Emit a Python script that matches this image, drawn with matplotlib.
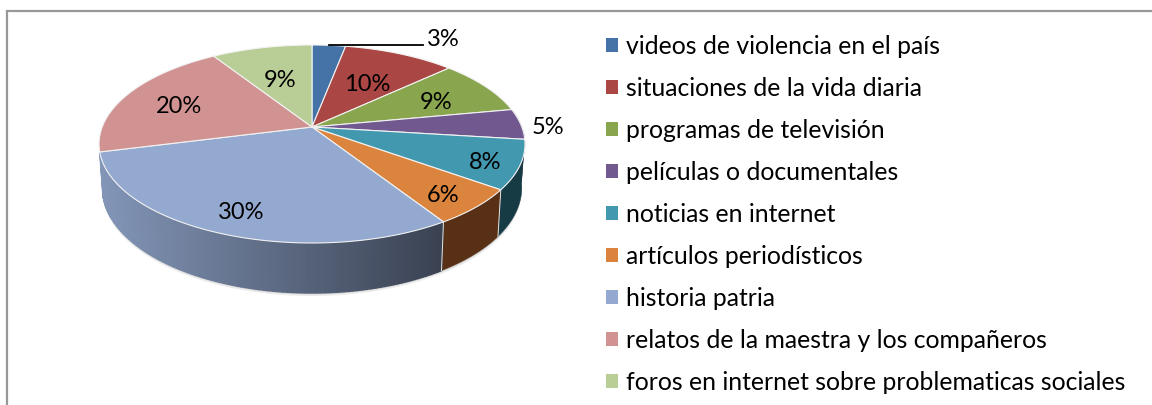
import numpy as np
import matplotlib
matplotlib.use('Agg')
import matplotlib.pyplot as plt
from matplotlib.colors import to_rgb
from matplotlib.patches import Patch

plt.rcParams['font.family'] = ['Lato', 'DejaVu Sans']

categories = ['videos de violencia en el país', 'situaciones de la vida diaria',
              'programas de televisión', 'películas o documentales',
              'noticias en internet', 'artículos periodísticos', 'historia patria',
              'relatos de la maestra y los compañeros',
              'foros en internet sobre problematicas sociales']
values = [3, 10, 9, 5, 8, 6, 30, 20, 9]

top_colors = ['#4572A7', '#AA4643', '#89A54E', '#71588F', '#4198AF',
              '#DB843D', '#93A9CF', '#D19392', '#B9CD96']
wall_colors = ['#2A4565', '#672A28', '#53642F', '#443556', '#173B45',
               '#573016', '#3A4252', '#7E5958', '#707C5B']
# how far along the radius each label sits
label_radius = [None, 0.6, 0.7, 1.13, 0.84, 0.82, 0.8, 0.71, 0.6]

# pie plane seen in perspective, all in pixels of the 1152x405 picture
CX, CY = 312, 127
A, B, K = 209.8, 96.08, 0.1717
SHRINK = 0.985


def project(u, v):
    """map a point of the unit circle plane to the picture"""
    w = 1 - K * v
    return CX + A * u / w, CY + B * v / w


def rim(a0, a1, r=1.0, n=100):
    """points of the rim between two angles, clockwise from the top, in degrees"""
    t = np.radians(np.linspace(a0, a1, n))
    return r * np.sin(t), -r * np.cos(t)


def lower(u, v):
    """same rim point at the bottom of the side wall"""
    x, y = project(u, v)
    return CX + (x - CX) * SHRINK, y + 42 + 8 * v


fig = plt.figure(figsize=(11.52, 4.05), dpi=100)
ax = fig.add_axes([0, 0, 1, 1])
ax.set_xlim(0, 1152)
ax.set_ylim(405, 0)
ax.axis('off')

# frame of the chart, only top and left fall inside the picture
ax.plot([7, 7, 1152], [405, 11, 11], color='#989898', lw=1.6, solid_joinstyle='miter')

edges = np.cumsum([0] + values) * 3.6

# soft shadow under the pie
for grow, col in [(3.0, '#ececec'), (1.5, '#d8d8d8')]:
    u, v = rim(100, 260, n=200)
    x, y = lower(u, v)
    ax.fill(np.r_[x, x[::-1]], np.r_[y + grow, y[::-1] - 20], color=col, lw=0)

# side walls, only these slices reach the front of the pie
for i in [3, 4, 5, 6]:
    u, v = rim(edges[i], edges[i + 1])
    xt, yt = project(u, v)
    xb, yb = lower(u, v)
    if i == 6:
        # the big slice goes from dark on the right to light on the left
        dark, light = np.array(to_rgb('#3A4252')), np.array(to_rgb('#8396B8'))
        span = xt[0] - xt[-1]
        for j in range(len(u) - 1):
            f = (xt[0] - xt[j]) / span
            c = dark + (light - dark) * f
            ax.fill([xt[j], xt[j + 1], xb[j + 1], xb[j]],
                    [yt[j], yt[j + 1], yb[j + 1], yb[j]],
                    facecolor=c, edgecolor=c, lw=1.0)
    else:
        ax.fill(np.r_[xt, xb[::-1]], np.r_[yt, yb[::-1]], color=wall_colors[i], lw=0.3)

# division between the walls
for i in [5, 6]:
    u, v = rim(edges[i], edges[i], n=1)
    xt, yt = project(u, v)
    xb, yb = lower(u, v)
    ax.plot([xt[0], xb[0]], [yt[0], yb[0]], color='#e4e4e4', lw=0.7)

# top of the pie
for i in range(len(values)):
    u, v = rim(edges[i], edges[i + 1])
    x, y = project(u, v)
    ax.fill(np.r_[CX, x], np.r_[CY, y], facecolor=top_colors[i], edgecolor='#f2f2f2', lw=0.8)

# labels
mids = (edges[:-1] + edges[1:]) / 2
for i, val in enumerate(values):
    if label_radius[i] is None:
        continue
    u, v = rim(mids[i], mids[i], r=label_radius[i], n=1)
    x, y = project(u, v)
    ax.text(x[0], y[0] + 4, '%d%%' % val, fontsize=17, color='black', ha='center', va='center')

# the thin slice has its label out on a leader line
u, v = rim(mids[0], mids[0], n=1)
x, y = project(u, v)
ax.plot([x[0], 423], [y[0], y[0]], color='black', lw=1.3)
ax.text(427, 40, '%d%%' % values[0], fontsize=17, color='black', ha='left', va='center')

handles = [Patch(facecolor=c, edgecolor='none') for c in top_colors]
ax.legend(handles, categories, loc='upper left', bbox_to_anchor=(606 / 1152, 1 - 35 / 405),
          frameon=False, fontsize=17.85, labelspacing=0.764, handlelength=0.48,
          handleheight=0.48, handletextpad=0.32, borderpad=0, borderaxespad=0)

fig.savefig('out.png', dpi=100)
